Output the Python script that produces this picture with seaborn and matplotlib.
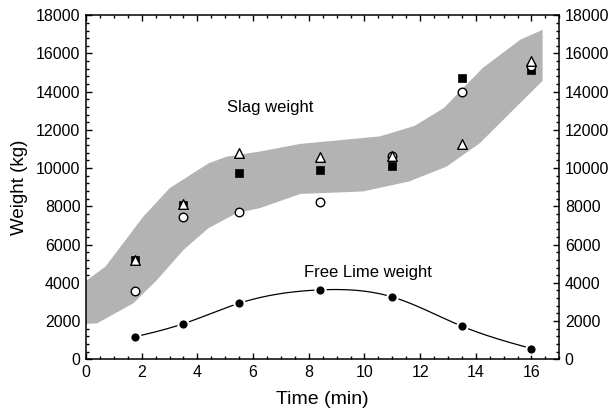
import numpy as np
import pandas as pd
import seaborn as sns
import matplotlib.pyplot as plt
from matplotlib.ticker import MultipleLocator

# data
time = [1.75, 3.5, 5.5, 8.4, 11.0, 13.5, 16.0]
slag_square = [5180, 8060, 9750, 9880, 10130, 14730, 15110]
slag_triangle = [5180, 8100, 10780, 10580, 10640, 11270, 15600]
slag_circle = [3580, 7430, 7730, 8220, 10640, 13960, 15320]
free_lime = [1170, 1860, 2930, 3630, 3260, 1730, 560]

# grey band outline
band_upper_x = [0, 0.7, 2.05, 3.0, 4.4, 5.05, 6.25, 7.7, 10.55, 11.8, 12.85, 14.25, 15.6, 16.4]
band_upper_y = [4100, 4850, 7450, 8950, 10250, 10600, 10870, 11270, 11660, 12210, 13140, 15240, 16720, 17240]
band_lower_x = [0, 0.4, 1.7, 2.55, 3.5, 4.4, 5.4, 6.25, 7.7, 9.95, 11.6, 12.95, 14.15, 15.35, 16.4]
band_lower_y = [1850, 1880, 2930, 4150, 5720, 6860, 7640, 7910, 8650, 8780, 9300, 10080, 11310, 13050, 14570]


def natural_spline(x, y, n=300):
    x = np.asarray(x, float)
    y = np.asarray(y, float)
    k = len(x)
    h = np.diff(x)
    A = np.zeros((k, k))
    b = np.zeros(k)
    A[0, 0] = A[-1, -1] = 1
    for i in range(1, k - 1):
        A[i, i - 1] = h[i - 1]
        A[i, i] = 2 * (h[i - 1] + h[i])
        A[i, i + 1] = h[i]
        b[i] = 6 * ((y[i + 1] - y[i]) / h[i] - (y[i] - y[i - 1]) / h[i - 1])
    m = np.linalg.solve(A, b)
    xs = np.linspace(x[0], x[-1], n)
    idx = np.clip(np.searchsorted(x, xs) - 1, 0, k - 2)
    x0, x1 = x[idx], x[idx + 1]
    hh = x1 - x0
    t0, t1 = x1 - xs, xs - x0
    ys = (m[idx] * t0 ** 3 + m[idx + 1] * t1 ** 3) / (6 * hh) \
        + (y[idx] / hh - m[idx] * hh / 6) * t0 + (y[idx + 1] / hh - m[idx + 1] * hh / 6) * t1
    return xs, ys


sns.set_style("ticks")
plt.rcParams['font.family'] = ['Liberation Sans', 'DejaVu Sans']
plt.rcParams['text.color'] = 'black'
plt.rcParams['axes.labelcolor'] = 'black'
plt.rcParams['xtick.color'] = 'black'
plt.rcParams['ytick.color'] = 'black'

fig = plt.figure(figsize=(6.11, 4.12), dpi=100)
ax = fig.add_axes([0.1408, 0.128, 0.7746, 0.835])

# band
ax.fill(band_upper_x + band_lower_x[::-1], band_upper_y + band_lower_y[::-1],
        color='#b3b3b3', lw=0, zorder=1)

df = pd.DataFrame({'time': time, 'square': slag_square, 'triangle': slag_triangle,
                   'circle': slag_circle, 'lime': free_lime})

# free lime curve
xs, ys = natural_spline(time, free_lime)
ax.plot(xs, ys, color='black', lw=0.9, zorder=2)
sns.scatterplot(data=df, x='time', y='lime', ax=ax, marker='o', s=55,
                color='black', edgecolor='white', linewidth=1.5, zorder=3)

sns.scatterplot(data=df, x='time', y='square', ax=ax, marker='s', s=38,
                color='black', edgecolor='black', linewidth=0.5, zorder=3)
sns.scatterplot(data=df, x='time', y='circle', ax=ax, marker='o', s=38,
                color='white', edgecolor='black', linewidth=1.0, zorder=4)
sns.scatterplot(data=df, x='time', y='triangle', ax=ax, marker='^', s=48,
                color='white', edgecolor='black', linewidth=1.0, zorder=5)

ax.text(6.6, 13150, 'Slag weight', ha='center', va='center', fontsize=12)
ax.text(10.14, 4550, 'Free Lime weight', ha='center', va='center', fontsize=12)

ax.set_xlim(0, 17)
ax.set_ylim(0, 18000)
ax.xaxis.set_major_locator(MultipleLocator(2))
ax.xaxis.set_minor_locator(MultipleLocator(0.5))
ax.yaxis.set_major_locator(MultipleLocator(2000))
ax.yaxis.set_minor_locator(MultipleLocator(400))
ax.tick_params(which='both', direction='in', top=True, right=True,
               labelright=True, labelsize=11.5, width=1.0, color='black')
ax.tick_params(which='major', length=4.5, pad=4)
ax.tick_params(which='minor', length=2.5)
for s in ax.spines.values():
    s.set_linewidth(1.1)
    s.set_color('black')

ax.set_xlabel('Time (min)', fontsize=14, labelpad=8)
ax.set_ylabel('Weight (kg)', fontsize=13.5, labelpad=6)

fig.savefig('out.png', dpi=100)
